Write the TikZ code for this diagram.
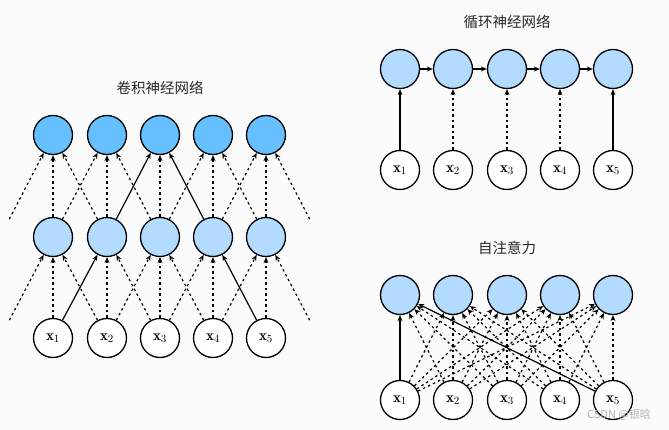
\documentclass[tikz,border=0pt]{standalone}
\usepackage{fontspec}
\newfontfamily\cjk{Noto Sans CJK SC}
\usetikzlibrary{arrows.meta}
\definecolor{bgc}{RGB}{251,251,251}
\definecolor{topc}{RGB}{102,191,255}
\definecolor{midc}{RGB}{179,218,255}
\definecolor{titlec}{RGB}{40,40,40}
\definecolor{wmc}{RGB}{180,180,180}
\tikzset{
  neuron/.style={circle,draw=black,line width=1.3pt,minimum size=39pt,inner sep=0pt},
  topn/.style={neuron,fill=topc},
  midn/.style={neuron,fill=midc},
  inn/.style={neuron,fill=white,font=\fontsize{15}{17}\selectfont},
  ghost/.style={circle,minimum size=40pt,inner sep=0pt},
  conn/.style={line width=1.2pt,-{Stealth[length=6pt,width=5pt]}},
  dconn/.style={conn,dash pattern=on 2.5pt off 3pt},
  ttl/.style={font=\cjk\fontsize{14.5}{16}\selectfont,text=titlec}
}
\begin{document}
\begin{tikzpicture}[x=1pt,y=-1pt]
\fill[bgc] (0,0) rectangle (669,430);
\useasboundingbox (0,0) rectangle (669,430);
% ---------- CNN ----------
\node[ttl] (t1) at (160,88) {卷积神经网络};
\foreach \i/\x in {1/53,2/107,3/160,4/213,5/266}{
  \node[topn] (ct\i) at (\x,135) {};
  \node[midn] (cm\i) at (\x,237) {};
  \node[inn] (cx\i) at (\x,338) {$\mathbf{x}_{\i}$};
}
\node[ghost] (cm0) at (0,237) {};
\node[ghost] (cm6) at (319,237) {};
\node[ghost] (cx0) at (0,338) {};
\node[ghost] (cx6) at (319,338) {};
\foreach \i in {1,...,5}{
  \pgfmathtruncatemacro{\a}{\i-1}
  \pgfmathtruncatemacro{\b}{\i+1}
  \draw[dconn] (cm\i) -- (ct\i);
  \draw[dconn] (cx\i) -- (cm\i);
  \ifnum\i=3 \else \draw[dconn] (cm\a) -- (ct\i); \draw[dconn] (cm\b) -- (ct\i); \fi
  \ifnum\i=2 \else\ifnum\i=4 \else \draw[dconn] (cx\a) -- (cm\i); \draw[dconn] (cx\b) -- (cm\i); \fi\fi
}
\draw[dconn] (cx3) -- (cm2);
\draw[conn] (cx1) -- (cm2);
\draw[dconn] (cx3) -- (cm4);
\draw[conn] (cx5) -- (cm4);
\draw[conn] (cm2) -- (ct3);
\draw[conn] (cm4) -- (ct3);
% ---------- RNN ----------
\node[ttl] (t2) at (507,22) {循环神经网络};
\foreach \i/\x in {1/400,2/453,3/507,4/560,5/613}{
  \node[midn] (rt\i) at (\x,69) {};
  \node[inn] (rx\i) at (\x,170) {$\mathbf{x}_{\i}$};
}
\foreach \i in {1,...,4}{
  \pgfmathtruncatemacro{\b}{\i+1}
  \draw[conn] (rt\i) -- (rt\b);
}
\draw[conn,line width=1.6pt] (rx1) -- (rt1);
\draw[dconn] (rx2) -- (rt2);
\draw[dconn] (rx3) -- (rt3);
\draw[dconn] (rx4) -- (rt4);
\draw[conn] (rx5) -- (rt5);
% ---------- Self-attention ----------
\node[ttl] (t3) at (507,248) {自注意力};
\foreach \i/\x in {1/400,2/453,3/507,4/560,5/613}{
  \node[midn] (st\i) at (\x,295) {};
  \node[inn] (sx\i) at (\x,400) {$\mathbf{x}_{\i}$};
}
\foreach \i in {1,...,5}{
  \foreach \j in {1,...,5}{
    \ifnum\i=1 \ifnum\j=1 \else \draw[dconn] (sx\i) -- (st\j); \fi
    \else\ifnum\i=5 \ifnum\j=1 \else \draw[dconn] (sx\i) -- (st\j); \fi
    \else \draw[dconn] (sx\i) -- (st\j); \fi\fi
  }
}
\draw[conn,line width=1.6pt] (sx1) -- (st1);
\draw[conn] (sx5) -- (st1);
\node[font=\cjk\fontsize{11}{13}\selectfont,text=wmc] (wm) at (619,415) {CSDN @银晗};
\end{tikzpicture}
\end{document}
